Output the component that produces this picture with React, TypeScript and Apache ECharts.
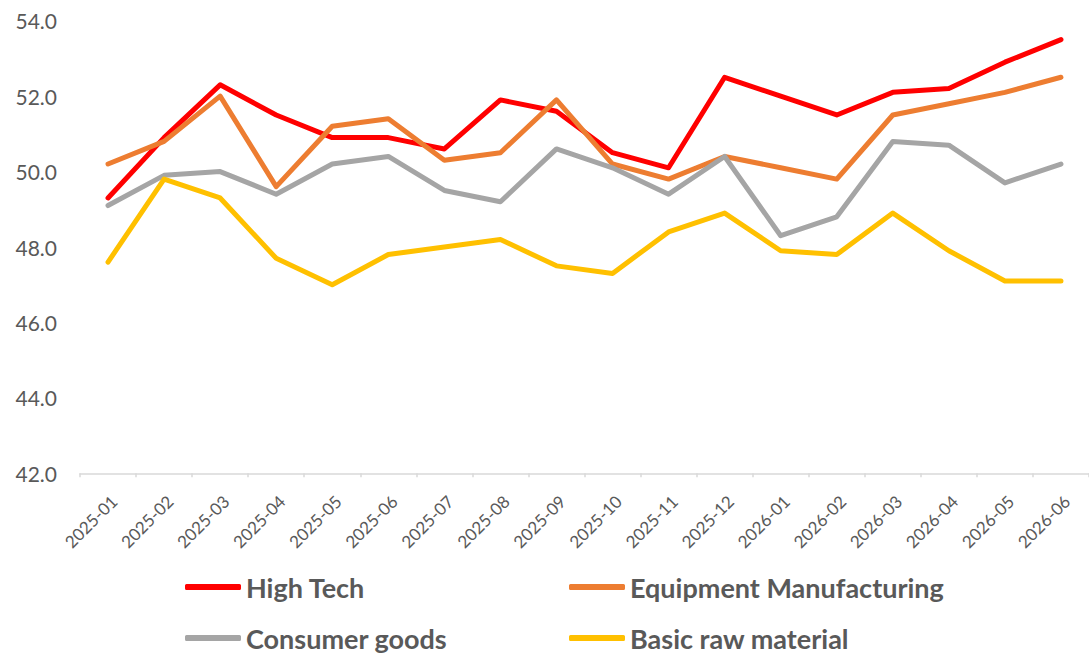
import React, { useEffect, useRef } from "react";
import * as echarts from "echarts";

const categories = [
  "2025-01", "2025-02", "2025-03", "2025-04", "2025-05", "2025-06",
  "2025-07", "2025-08", "2025-09", "2025-10", "2025-11", "2025-12",
  "2026-01", "2026-02", "2026-03", "2026-04", "2026-05", "2026-06",
];

const highTech = [49.3, 50.9, 52.3, 51.5, 50.9, 50.9, 50.6, 51.9, 51.6, 50.5, 50.1, 52.5, 52.0, 51.5, 52.1, 52.2, 52.9, 53.5];
const equipment = [50.2, 50.8, 52.0, 49.6, 51.2, 51.4, 50.3, 50.5, 51.9, 50.2, 49.8, 50.4, 50.1, 49.8, 51.5, 51.8, 52.1, 52.5];
const consumer = [49.1, 49.9, 50.0, 49.4, 50.2, 50.4, 49.5, 49.2, 50.6, 50.1, 49.4, 50.4, 48.3, 48.8, 50.8, 50.7, 49.7, 50.2];
const rawMaterial = [47.6, 49.8, 49.3, 47.7, 47.0, 47.8, 48.0, 48.2, 47.5, 47.3, 48.4, 48.9, 47.9, 47.8, 48.9, 47.9, 47.1, 47.1];

const seriesNames = ["High Tech", "Equipment Manufacturing", "Consumer goods", "Basic raw material"];
const seriesColors = ["#FF0000", "#ED7D31", "#A5A5A5", "#FFC000"];
const seriesData = [highTech, equipment, consumer, rawMaterial];

const yMin = 42;
const yMax = 54;
const yStep = 2;

export default function App() {
  const ref = useRef<HTMLDivElement>(null);

  useEffect(() => {
    if (!ref.current) return;
    const chart = echarts.init(ref.current, null, { renderer: "svg" });
    const font = "Lato, 'Noto Sans', sans-serif";
    const legendPos = [
      { left: 185, top: 572 },
      { left: 569, top: 572 },
      { left: 185, top: 623 },
      { left: 569, top: 623 },
    ];
    chart.setOption({
      animation: false,
      backgroundColor: "#FFFFFF",
      textStyle: { fontFamily: font },
      grid: { left: 80, top: 20.7, width: 1023.3, height: 452.6, containLabel: false },
      xAxis: {
        type: "category",
        data: categories,
        boundaryGap: true,
        axisLine: { show: true, lineStyle: { color: "#D9D9D9", width: 1.5 } },
        axisTick: { show: true, length: 4, lineStyle: { color: "#D9D9D9", width: 1.5 } },
        axisLabel: {
          rotate: 45,
          interval: 0,
          margin: 19,
          align: "right",
          verticalAlign: "top",
          color: "#595959",
          fontSize: 17,
          fontFamily: font,
        },
        splitLine: { show: false },
      },
      yAxis: {
        type: "value",
        min: yMin,
        max: yMax,
        interval: yStep,
        axisLine: { show: false },
        axisTick: { show: false },
        splitLine: { show: false },
        axisLabel: {
          margin: 23,
          color: "#595959",
          fontSize: 21,
          fontFamily: font,
          formatter: (v: number) => v.toFixed(1),
        },
      },
      legend: seriesNames.map((name, i) => ({
        data: [name],
        left: legendPos[i].left,
        top: legendPos[i].top,
        padding: 0,
        itemWidth: 56,
        itemHeight: 6,
        itemGap: 0,
        icon: "roundRect",
        selectedMode: false,
        textStyle: {
          color: "#595959",
          fontSize: 27,
          fontWeight: "bold",
          fontFamily: font,
          lineHeight: 30,
        },
      })),
      series: seriesNames.map((name, i) => ({
        name,
        type: "line",
        data: seriesData[i],
        symbol: "none",
        smooth: false,
        lineStyle: { color: seriesColors[i], width: 5, cap: "round", join: "round" },
        itemStyle: { color: seriesColors[i] },
      })),
    });
    return () => chart.dispose();
  }, []);

  return (
    <div
      ref={ref}
      style={{ position: "absolute", left: 0, top: 0, width: 1089, height: 653 }}
    />
  );
}
